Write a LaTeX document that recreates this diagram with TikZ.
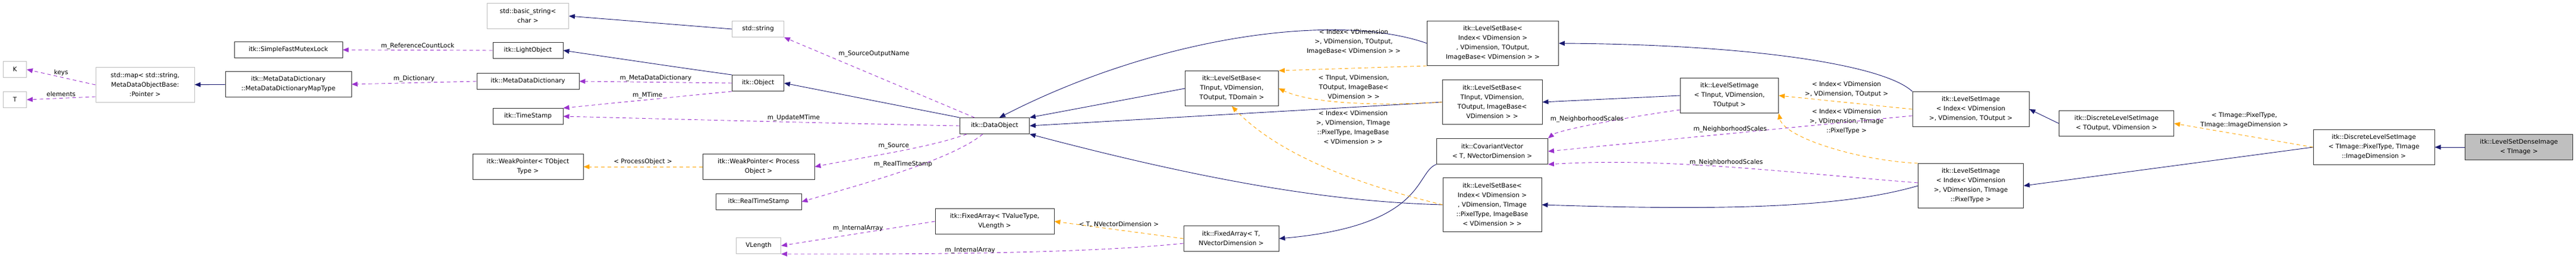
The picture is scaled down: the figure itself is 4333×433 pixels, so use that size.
\documentclass[tikz,border=0pt]{standalone}
\usepackage{fontspec}
\setmainfont{DejaVu Sans}
\usetikzlibrary{arrows.meta}
\definecolor{edgeblue}{HTML}{191970}
\definecolor{edgepurple}{HTML}{9A32CD}
\definecolor{edgeorange}{HTML}{FFA500}
\definecolor{boxgray}{HTML}{BFBFBF}
\tikzset{
  box/.style={draw, align=center, inner sep=0pt, font=\fontsize{10.5}{16}\selectfont, line width=0.9pt},
  cls/.style={box, draw=black!80},
  ext/.style={box, draw=boxgray},
  focus/.style={box, draw=black!80, fill=boxgray},
  lbl/.style={font=\fontsize{10.5}{16}\selectfont, align=center, inner sep=0pt},
  inh/.style={draw=edgeblue, line width=0.9pt, -{Triangle[length=10pt,width=8pt]}},
  tpl/.style={draw=edgeorange, line width=0.9pt, dash pattern=on 6pt off 5pt, -{Triangle[length=10pt,width=8pt]}},
  use/.style={draw=edgepurple, line width=0.9pt, dash pattern=on 6pt off 5pt, -{Triangle[length=10pt,width=8pt]}},
}
\begin{document}
\begin{tikzpicture}[x=1pt,y=-1pt]
  \useasboundingbox (0,0) rectangle (4333,433);
  % boxes
  \node[ext, minimum width=39, minimum height=27] (K) at (25,117) {K};
  \node[ext, minimum width=39, minimum height=27] (T) at (25,168) {T};
  \node[ext, minimum width=166, minimum height=59] (map) at (244,143) {std::map< std::string,\\ MetaDataObjectBase:\\ :Pointer >};
  \node[cls, minimum width=212, minimum height=43] (maptype) at (485,142) {itk::MetaDataDictionary\\ ::MetaDataDictionaryMapType};
  \node[cls, minimum width=182, minimum height=27] (mutex) at (485,84) {itk::SimpleFastMutexLock};
  \node[ext, minimum width=137, minimum height=43] (bstring) at (888,27) {std::basic\_string<\\ char >};
  \node[ext, minimum width=87, minimum height=27] (string) at (1275,49) {std::string};
  \node[cls, minimum width=118, minimum height=27] (light) at (888,85) {itk::LightObject};
  \node[cls, minimum width=172, minimum height=27] (mdd) at (888,137) {itk::MetaDataDictionary};
  \node[cls, minimum width=118, minimum height=27] (tstamp) at (888,196) {itk::TimeStamp};
  \node[cls, minimum width=87, minimum height=27] (object) at (1275,140) {itk::Object};
  \node[cls, minimum width=186, minimum height=43] (wpbase) at (888,281) {itk::WeakPointer< TObject\\ Type >};
  \node[cls, minimum width=188, minimum height=43] (wpproc) at (1276,281) {itk::WeakPointer< Process\\ Object >};
  \node[cls, minimum width=144, minimum height=27] (rtstamp) at (1276,340) {itk::RealTimeStamp};
  \node[ext, minimum width=75, minimum height=27] (vlength) at (1276,414) {VLength};
  \node[cls, minimum width=117, minimum height=27] (data) at (1673,212) {itk::DataObject};
  \node[cls, minimum width=157, minimum height=59] (lsbase) at (2072,149) {itk::LevelSetBase<\\ TInput, VDimension,\\ TOutput, TDomain >};
  \node[cls, minimum width=200, minimum height=43] (farray) at (1673,373) {itk::FixedArray< TValueType,\\ VLength >};
  \node[cls, minimum width=160, minimum height=43] (fvec) at (2071,402) {itk::FixedArray< T,\\ NVectorDimension >};
  \node[cls, minimum width=221, minimum height=75] (lsbidx) at (2511,73) {itk::LevelSetBase<\\ Index< VDimension >\\ , VDimension, TOutput,\\ ImageBase< VDimension > >};
  \node[cls, minimum width=168, minimum height=75] (lsbin) at (2510,172) {itk::LevelSetBase<\\ TInput, VDimension,\\ TOutput, ImageBase<\\ VDimension > >};
  \node[cls, minimum width=187, minimum height=43] (covec) at (2510,255) {itk::CovariantVector\\ < T, NVectorDimension >};
  \node[cls, minimum width=166, minimum height=91] (lsbpix) at (2510,345) {itk::LevelSetBase<\\ Index< VDimension >\\ , VDimension, TImage\\ ::PixelType, ImageBase\\ < VDimension > >};
  \node[cls, minimum width=165, minimum height=59] (lsiin) at (2909,161) {itk::LevelSetImage\\ < TInput, VDimension,\\ TOutput >};
  \node[cls, minimum width=196, minimum height=59] (lsiidx) at (3315,184) {itk::LevelSetImage\\ < Index< VDimension\\ >, VDimension, TOutput >};
  \node[cls, minimum width=177, minimum height=75] (lsipix) at (3315,313) {itk::LevelSetImage\\ < Index< VDimension\\ >, VDimension, TImage\\ ::PixelType >};
  \node[cls, minimum width=193, minimum height=43] (dlsiout) at (3560,208) {itk::DiscreteLevelSetImage\\ < TOutput, VDimension >};
  \node[cls, minimum width=204, minimum height=59] (dlsipix) at (3993,248) {itk::DiscreteLevelSetImage\\ < TImage::PixelType, TImage\\ ::ImageDimension >};
  \node[focus, minimum width=181, minimum height=43] (dense) at (4237,248) {itk::LevelSetDenseImage\\ < TImage >};

  % inheritance
  \draw[inh] (maptype) -- (map);
  \draw[inh] (string.west) -- (bstring.east);
  \draw[inh] (object.north west) .. controls (1150,115) and (1050,100) .. (light.east);
  \draw[inh] (data.north west) -- (object.east);
  \draw[inh] (lsbase.west) -- (data.north east);
  \draw[inh] (lsbidx.west) .. controls (2250,20) and (1950,60) .. (data.60);
  \draw[inh] (lsbin.west) -- (data.east);
  \draw[inh] (lsbpix.west) .. controls (2250,340) and (2050,310) .. (data.south east);
  \draw[inh] (covec.south west) .. controls (2380,290) and (2400,380) .. (fvec.east);
  \draw[inh] (lsiidx.north west) .. controls (3170,110) and (2950,75) .. (lsbidx.east);
  \draw[inh] (lsiin.west) -- (lsbin.east);
  \draw[inh] (lsipix.west) .. controls (3100,350) and (2900,355) .. (lsbpix.east);
  \draw[inh] (dlsiout.west) -- (lsiidx.east);
  \draw[inh] (dlsipix.west) -- (lsipix.east);
  \draw[inh] (dense) -- (dlsipix);

  % template instances
  \draw[tpl] (wpproc) -- node[lbl, above=3pt] {< ProcessObject >} (wpbase);
  \draw[tpl] (fvec.west) -- node[lbl, above=4pt] {< T, NVectorDimension >} (farray.east);
  \draw[tpl] (lsbidx.south west) -- (lsbase.north east);
  \node[lbl] (tlidx) at (2277,71) {< Index< VDimension\\ >, VDimension, TOutput,\\ ImageBase< VDimension > >};
  \draw[tpl] (lsbin.west) .. controls (2300,180) and (2200,172) .. (lsbase.east);
  \node[lbl] (tlin) at (2277,147) {< TInput, VDimension,\\ TOutput, ImageBase<\\ VDimension > >};
  \draw[tpl] (lsbpix.west) .. controls (2280,310) and (2150,260) .. (lsbase.south);
  \node[lbl] (tlpix) at (2276,215) {< Index< VDimension\\ >, VDimension, TImage\\ ::PixelType, ImageBase\\ < VDimension > >};
  \draw[tpl] (lsiidx.west) -- (lsiin.east);
  \node[lbl] (tlsi) at (3106,151) {< Index< VDimension\\ >, VDimension, TOutput >};
  \draw[tpl] (lsipix.north west) .. controls (3120,270) and (3000,230) .. (lsiin.south east);
  \node[lbl] (tlsipix) at (3106,205) {< Index< VDimension\\ >, VDimension, TImage\\ ::PixelType >};
  \draw[tpl] (dlsipix.west) -- (dlsiout.east);
  \node[lbl] (tldlsi) at (3775,203) {< TImage::PixelType,\\ TImage::ImageDimension >};

  % members
  \coordinate (mapel) at ([yshift=10pt]map.south west);
  \draw[use] (map.west) -- node[lbl, above=2pt] {keys} (K.east);
  \draw[use] (mapel) -- node[lbl, above=2pt] {elements} (T.east);
  \draw[use] (light.west) -- node[lbl, above=1pt] {m\_ReferenceCountLock} (mutex.east);
  \draw[use] (mdd.west) -- node[lbl, above=1pt] {m\_Dictionary} (maptype.east);
  \draw[use] (object.west) -- node[lbl, above=1pt] {m\_MetaDataDictionary} (mdd.east);
  \draw[use] (object.south west) -- node[lbl, above=2pt] {m\_MTime} (tstamp.north east);
  \draw[use] (data.west) .. controls (1500,210) and (1100,200) .. node[lbl, pos=0.45, above=1pt] {m\_UpdateMTime} (tstamp.east);
  \coordinate (dtop) at ([xshift=25pt]data.north west);
  \draw[use] (dtop) -- (string.south east);
  \node[lbl] (lsrc) at (1470,91) {m\_SourceOutputName};
  \coordinate (dsw) at ([xshift=12pt]data.south west);
  \draw[use] (dsw) .. controls (1560,250) and (1450,265) .. node[lbl, pos=0.5, above=5pt] {m\_Source} (wpproc.east);
  \coordinate (dsm) at ([xshift=-20pt]data.south);
  \draw[use] (dsm) .. controls (1600,270) and (1450,310) .. node[lbl, pos=0.5, above=6pt] {m\_RealTimeStamp} (rtstamp.east);
  \draw[use] (farray.west) -- node[lbl, above=3pt] {m\_InternalArray} (vlength.east);
  \coordinate (fvw) at ([yshift=-8pt]fvec.west);
  \draw[use] (fvw) .. controls (1800,430) and (1450,428) .. node[lbl, pos=0.5, above=-1pt] {m\_InternalArray} (vlength.south east);
  \coordinate (lsw) at ([yshift=6pt]lsiin.south west);
  \draw[use] (lsw) .. controls (2720,200) and (2620,220) .. node[lbl, pos=0.55, above=6pt] {m\_NeighborhoodScales} (covec.north east);
  \coordinate (lidw) at ([yshift=-11pt]lsiidx.west);
  \draw[use] (lidw) -- node[lbl, pos=0.5, above=2pt] {m\_NeighborhoodScales} (covec.east);
  \coordinate (lpw) at ([yshift=5pt]lsipix.west);
  \draw[use] (lpw) .. controls (3000,290) and (2800,265) .. node[lbl, pos=0.5, above=2pt] {m\_NeighborhoodScales} (covec.south east);
\end{tikzpicture}
\end{document}
